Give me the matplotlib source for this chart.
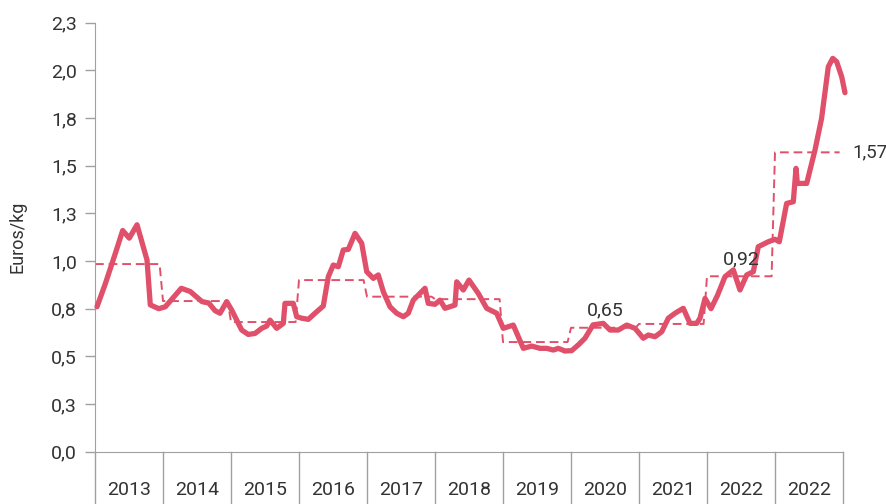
import matplotlib
matplotlib.use("Agg")
import matplotlib.pyplot as plt

plt.rcParams['font.family'] = ['Roboto', 'DejaVu Sans']

# monthly-ish price series, time as decimal year
t = [2013.029, 2013.151, 2013.299, 2013.407, 2013.504, 2013.618, 2013.765, 2013.813, 2013.937,
     2014.034, 2014.269, 2014.401, 2014.574, 2014.672, 2014.765, 2014.838, 2014.937,
     2015.010, 2015.157, 2015.254, 2015.353, 2015.451, 2015.525, 2015.574, 2015.672, 2015.769,
     2015.794, 2015.916, 2015.966,
     2016.040, 2016.137, 2016.235, 2016.357, 2016.431, 2016.504, 2016.578, 2016.651, 2016.725,
     2016.824, 2016.922, 2016.996,
     2017.093, 2017.166, 2017.240, 2017.338, 2017.437, 2017.534, 2017.607, 2017.681, 2017.853,
     2017.901,
     2018.000, 2018.074, 2018.147, 2018.294, 2018.319, 2018.416, 2018.500, 2018.637, 2018.760,
     2018.907,
     2019.004, 2019.151, 2019.299, 2019.422, 2019.544, 2019.643, 2019.740, 2019.813, 2019.912,
     2020.010, 2020.107, 2020.206, 2020.324, 2020.475, 2020.574, 2020.696, 2020.819, 2020.941,
     2021.063, 2021.137, 2021.235, 2021.334, 2021.431, 2021.529, 2021.651, 2021.750, 2021.849,
     2021.897, 2021.971,
     2022.059, 2022.154, 2022.265, 2022.387, 2022.485, 2022.584, 2022.681, 2022.754, 2022.901,
     2023.000, 2023.063, 2023.171, 2023.269, 2023.309, 2023.328, 2023.466, 2023.588, 2023.685,
     2023.784, 2023.849, 2023.907, 2023.981, 2024.029]
price = [0.76, 0.88, 1.04, 1.16, 1.12, 1.19, 1.005, 0.77, 0.75,
         0.76, 0.857, 0.84, 0.787, 0.78, 0.74, 0.726, 0.787,
         0.743, 0.638, 0.615, 0.62, 0.647, 0.659, 0.69, 0.647, 0.673,
         0.778, 0.778, 0.708,
         0.70, 0.694, 0.726, 0.764, 0.918, 0.979, 0.97, 1.058, 1.061,
         1.145, 1.093, 0.944,
         0.909, 0.927, 0.839, 0.76, 0.726, 0.708, 0.726, 0.795, 0.857,
         0.778,
         0.773, 0.795, 0.752, 0.769, 0.891, 0.848, 0.9, 0.83, 0.752,
         0.726,
         0.647, 0.664, 0.542, 0.554, 0.542, 0.542, 0.533, 0.542, 0.528,
         0.53, 0.56, 0.595, 0.665, 0.673, 0.638, 0.638, 0.664, 0.647,
         0.595, 0.612, 0.603, 0.629, 0.70, 0.726, 0.752, 0.673, 0.673,
         0.70, 0.804,
         0.75, 0.82, 0.918, 0.953, 0.848, 0.927, 0.944, 1.075, 1.101,
         1.114, 1.101, 1.302, 1.311, 1.486, 1.407, 1.407, 1.582, 1.748,
         2.019, 2.063, 2.045, 1.966, 1.883]

# yearly averages
years = [2013, 2014, 2015, 2016, 2017, 2018, 2019, 2020, 2021, 2022, 2023]
year_avg = [0.984, 0.79, 0.68, 0.90, 0.813, 0.80, 0.575, 0.65, 0.67, 0.92, 1.57]
year_labels = ['2013', '2014', '2015', '2016', '2017', '2018', '2019', '2020', '2021', '2022', '2022']

# annotated averages
notes = [(2020, '0,65'), (2022, '0,92'), (2023, '1,57')]

red = '#e0506a'
grey = '#a0a0a0'
txt = '#333333'
fs = 14

fig = plt.figure(figsize=(8.87, 5.04), dpi=100)
ax = fig.add_axes([0.1071, 0.1038, 0.8433, 0.8512])

# step line of yearly averages
sx, sy = [], []
for y, a in zip(years, year_avg):
    sx += [y, y + 0.95]
    sy += [a, a]
ax.plot(sx, sy, color=red, lw=1.4, ls=(0, (4.5, 2.5)))

ax.plot(t, price, color=red, lw=3.8, solid_joinstyle='round',
        solid_capstyle='round', clip_on=False, zorder=3)

ax.set_xlim(2013, 2024)
ax.set_ylim(0, 2.25)
ax.set_yticks([i * 0.25 for i in range(10)])
ax.set_yticklabels([('%.1f' % (i * 0.25 + 1e-9)).replace('.', ',') for i in range(10)],
                   fontsize=fs, color=txt)
ax.tick_params(axis='y', length=7, width=1, color=grey, pad=6)
ax.set_xticks([])
ax.set_ylabel('Euros/kg', fontsize=13, color=txt, labelpad=18)

for s in ['top', 'right']:
    ax.spines[s].set_visible(False)
ax.spines['left'].set_color(grey)
ax.spines['bottom'].set_color(grey)

# category grid below the axis
tr = ax.get_xaxis_transform()
for k in range(12):
    ax.plot([2013 + k, 2013 + k], [0, -0.13], transform=tr, color=grey,
            lw=1, clip_on=False)
for k, lab in enumerate(year_labels):
    ax.text(2013.5 + k, -0.089, lab, transform=tr, ha='center', va='center',
            fontsize=fs, color=txt)

for y, lab in notes:
    a = year_avg[years.index(y)]
    if y == 2023:
        ax.text(y + 1.14, a, lab, ha='left', va='center', fontsize=fs - 0.5, color=txt)
    else:
        ax.text(y + 0.5, a + 0.09, lab, ha='center', va='center', fontsize=fs, color=txt)

fig.savefig('out.png', dpi=100)
